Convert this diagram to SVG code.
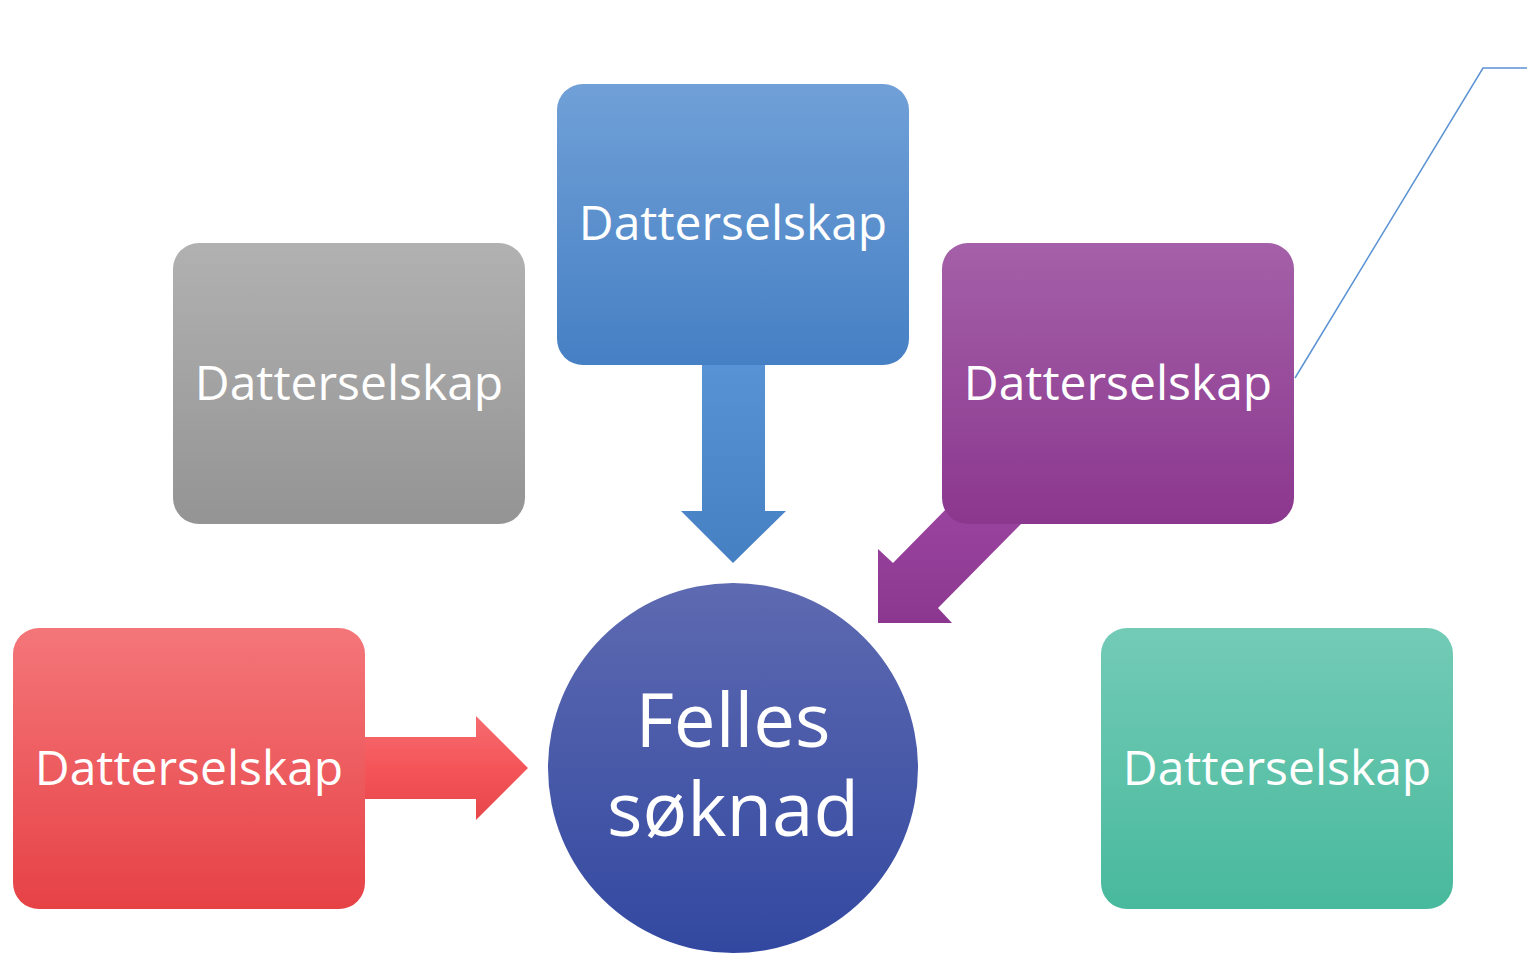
<svg xmlns="http://www.w3.org/2000/svg" width="1527" height="957" viewBox="0 0 1527 957">
<defs>
<linearGradient id="gGray" x1="0" y1="0" x2="0" y2="1"><stop offset="0" stop-color="#b1b1b1"/><stop offset="1" stop-color="#949494"/></linearGradient>
<linearGradient id="gBlue" x1="0" y1="0" x2="0" y2="1"><stop offset="0" stop-color="#70a0d7"/><stop offset="1" stop-color="#4680c4"/></linearGradient>
<linearGradient id="gPurple" x1="0" y1="0" x2="0" y2="1"><stop offset="0" stop-color="#a460a8"/><stop offset="1" stop-color="#8b378e"/></linearGradient>
<linearGradient id="gRed" x1="0" y1="0" x2="0" y2="1"><stop offset="0" stop-color="#f47679"/><stop offset="1" stop-color="#e64246"/></linearGradient>
<linearGradient id="gTeal" x1="0" y1="0" x2="0" y2="1"><stop offset="0" stop-color="#73cbb6"/><stop offset="1" stop-color="#48b99c"/></linearGradient>
<linearGradient id="gCircle" x1="0" y1="0" x2="0" y2="1"><stop offset="0" stop-color="#5e6ab1"/><stop offset="1" stop-color="#3248a0"/></linearGradient>
<linearGradient id="gBlueArrow" x1="0" y1="0" x2="0" y2="1"><stop offset="0" stop-color="#5893d6"/><stop offset="1" stop-color="#4580c2"/></linearGradient>
<linearGradient id="gRedArrow" x1="0" y1="0" x2="0" y2="1"><stop offset="0" stop-color="#f56c70"/><stop offset="0.5" stop-color="#f55559"/><stop offset="1" stop-color="#e7464a"/></linearGradient>
<linearGradient id="gPurpleArrow" x1="0" y1="0" x2="0" y2="1"><stop offset="0" stop-color="#9a44a0"/><stop offset="1" stop-color="#8c378f"/></linearGradient>
</defs>
<style>
.lbl{font-family:"Open Sans","Noto Sans",sans-serif;font-size:48px;fill:#ffffff;text-anchor:middle;dominant-baseline:central}
.big{font-family:"Open Sans","Noto Sans",sans-serif;font-size:74.5px;fill:#ffffff;text-anchor:middle}
</style>
<g id="connectors">
<polygon id="arrow-blue" points="702,360 765,360 765,511 786,511 733,563 681,511 702,511" fill="url(#gBlueArrow)"/>
<polygon id="arrow-red" points="360,737 476,737 476,716 528,768 476,820 476,799 360,799" fill="url(#gRedArrow)"/>
<polygon id="arrow-purple" points="950,505 1025,520 938,608 952,623 878,623 878,549 893,563" fill="url(#gPurpleArrow)"/>
<polyline id="callout-line" points="1295,378 1483,68 1527,68" fill="none" stroke="#5b93d3" stroke-width="1.5"/>
</g>
<g id="node-gray"><rect x="173" y="243" width="352" height="281" rx="26" fill="url(#gGray)"/><text class="lbl" x="349" y="381">Datterselskap</text></g>
<g id="node-blue"><rect x="557" y="84" width="352" height="281" rx="26" fill="url(#gBlue)"/><text class="lbl" x="733" y="221">Datterselskap</text></g>
<g id="node-purple"><rect x="942" y="243" width="352" height="281" rx="26" fill="url(#gPurple)"/><text class="lbl" x="1118" y="381">Datterselskap</text></g>
<g id="node-red"><rect x="13" y="628" width="352" height="281" rx="26" fill="url(#gRed)"/><text class="lbl" x="189" y="766">Datterselskap</text></g>
<g id="node-teal"><rect x="1101" y="628" width="352" height="281" rx="26" fill="url(#gTeal)"/><text class="lbl" x="1277" y="766">Datterselskap</text></g>
<g id="node-center"><circle cx="733" cy="768" r="185" fill="url(#gCircle)"/><text class="big" x="733" y="747">Felles</text><text class="big" x="733" y="836">søknad</text></g>
</svg>
